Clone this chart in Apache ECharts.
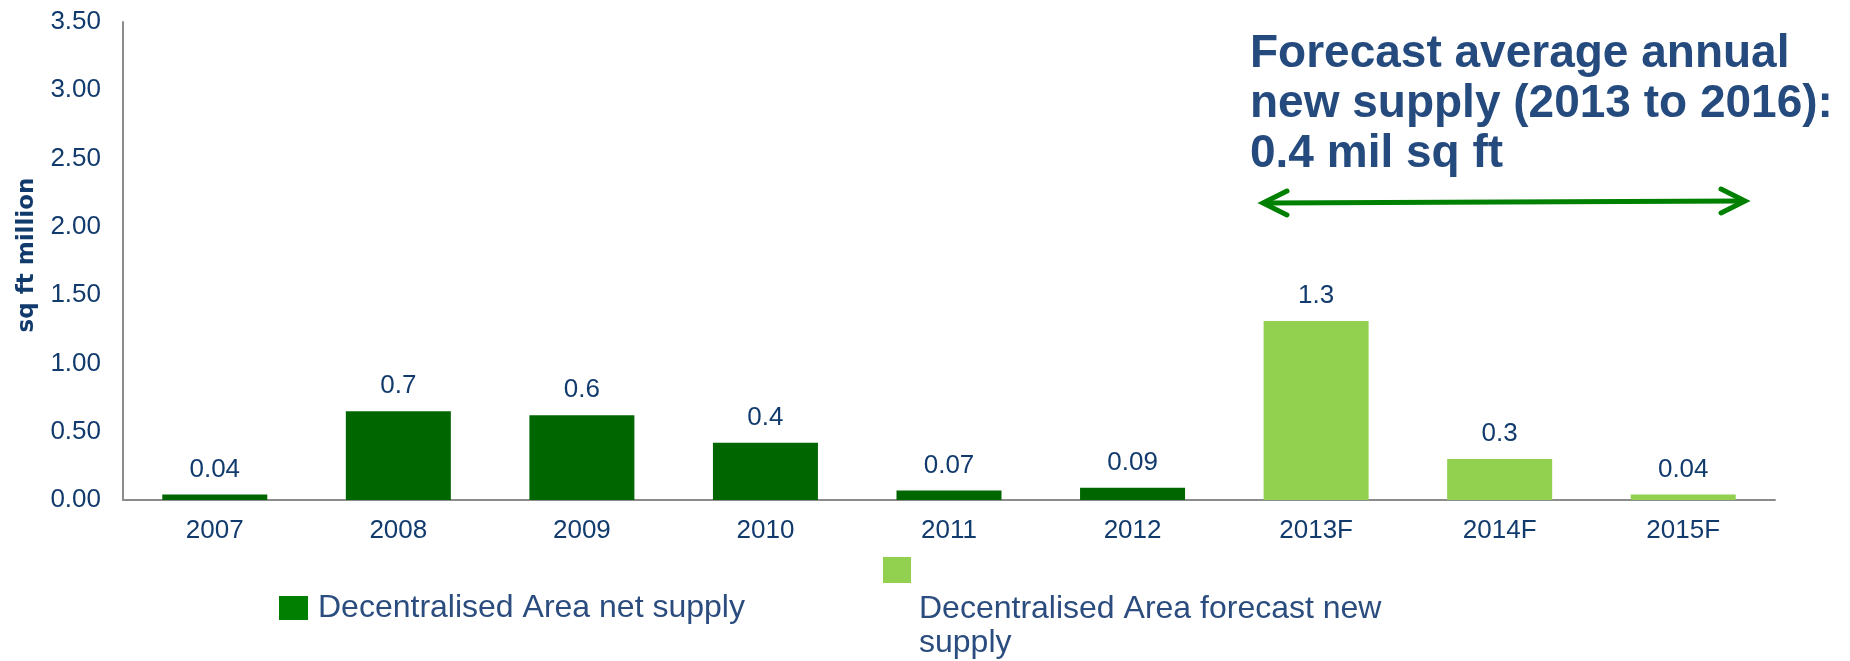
<!DOCTYPE html>
<html>
<head>
<meta charset="utf-8">
<script src="https://cdn.jsdelivr.net/npm/echarts@6/dist/echarts.min.js"></script>
<style>
html,body{margin:0;padding:0;background:#fff;}
#chart{width:1850px;height:661px;}
</style>
</head>
<body>
<div id="chart"></div>
<script>
const categories = ['2007','2008','2009','2010','2011','2012','2013F','2014F','2015F'];
const netSupply = [0.04, 0.65, 0.62, 0.42, 0.07, 0.09, null, null, null];
const forecastSupply = [null, null, null, null, null, null, 1.31, 0.30, 0.04];
const valueLabels = ['0.04','0.7','0.6','0.4','0.07','0.09','1.3','0.3','0.04'];
const seriesNames = ['Decentralised Area net supply', 'Decentralised Area forecast new supply'];
const forecastLegendLines = ['Decentralised Area forecast new', 'supply'];
const annotationText = 'Forecast average annual\nnew supply (2013 to 2016):\n0.4 mil sq ft';
const yAxisName = 'sq ft million';

const navy = '#123B6D';
const legendNavy = '#2B4C7E';
const labelCfg = {
  show: true,
  position: 'top',
  distance: 12,
  color: navy,
  fontFamily: 'Liberation Sans, Arial, sans-serif',
  fontSize: 26,
  formatter: p => valueLabels[p.dataIndex]
};

const chart = echarts.init(document.getElementById('chart'));
chart.setOption({
  animation: false,
  backgroundColor: '#ffffff',
  title: {
    text: annotationText,
    left: 1250,
    top: 29,
    padding: 0,
    textStyle: {
      fontFamily: 'Liberation Sans, Arial, sans-serif',
      fontWeight: 'bold',
      fontSize: 46,
      lineHeight: 50,
      color: '#254B7E'
    }
  },
  legend: [
    {
      left: 279,
      top: 592,
      padding: 0,
      itemWidth: 29,
      itemHeight: 24,
      itemGap: 0,
      icon: 'rect',
      data: [{ name: seriesNames[0], itemStyle: { color: '#007F00' } }],
      textStyle: {
        fontFamily: 'Liberation Sans, Arial, sans-serif',
        fontSize: 32,
        color: legendNavy,
        padding: [0, 0, 0, 5]
      }
    },
    {
      left: 883,
      top: 531,
      padding: 0,
      itemWidth: 28,
      itemHeight: 26,
      itemGap: 0,
      icon: 'rect',
      data: [{ name: seriesNames[1] }],
      formatter: () => '{s| }\n{t|' + forecastLegendLines[0] + '}\n{t|' + forecastLegendLines[1] + '}',
      textStyle: {
        fontFamily: 'Liberation Sans, Arial, sans-serif',
        fontSize: 32,
        color: legendNavy,
        rich: {
          s: { fontSize: 10, lineHeight: 113 },
          t: {
            fontFamily: 'Liberation Sans, Arial, sans-serif',
            fontSize: 32,
            lineHeight: 34,
            color: legendNavy,
            padding: [0, 0, 0, 3]
          }
        }
      }
    }
  ],
  grid: {
    left: 123,
    right: 75,
    top: 22,
    bottom: 161,
    containLabel: false
  },
  xAxis: {
    type: 'category',
    data: categories,
    axisLine: { show: true, lineStyle: { color: '#8C8C8C', width: 2 } },
    axisTick: { show: false },
    axisLabel: {
      margin: 18,
      color: navy,
      fontFamily: 'Liberation Sans, Arial, sans-serif',
      fontSize: 26
    }
  },
  yAxis: {
    type: 'value',
    min: 0,
    max: 3.5,
    interval: 0.5,
    name: yAxisName,
    nameLocation: 'middle',
    nameGap: 84,
    nameRotate: 90,
    nameTextStyle: {
      fontFamily: 'DejaVu Sans, sans-serif',
      fontWeight: 'bold',
      fontSize: 23,
      color: navy,
      padding: [0, 0, 0, 12]
    },
    splitLine: { show: false },
    axisTick: { show: false },
    axisLine: { show: true, lineStyle: { color: '#8C8C8C', width: 2 } },
    axisLabel: {
      margin: 22,
      color: navy,
      fontFamily: 'Liberation Sans, Arial, sans-serif',
      fontSize: 26,
      formatter: v => v.toFixed(2)
    }
  },
  series: [
    {
      name: seriesNames[0],
      type: 'bar',
      data: netSupply,
      barWidth: 105,
      barGap: '-100%',
      itemStyle: { color: '#006600' },
      label: labelCfg
    },
    {
      name: seriesNames[1],
      type: 'bar',
      data: forecastSupply,
      barWidth: 105,
      barGap: '-100%',
      itemStyle: { color: '#92D050' },
      label: labelCfg
    }
  ],
  graphic: [
    {
      type: 'group',
      silent: true,
      children: [
        { type: 'line', shape: { x1: 1266, y1: 203, x2: 1742, y2: 201 },
          style: { stroke: '#008000', lineWidth: 5 } },
        { type: 'polyline', shape: { points: [[1287, 191], [1263, 203], [1287, 215]] },
          style: { stroke: '#008000', lineWidth: 5, fill: null, lineCap: 'round', lineJoin: 'miter' } },
        { type: 'polyline', shape: { points: [[1721, 189], [1745, 201], [1721, 213]] },
          style: { stroke: '#008000', lineWidth: 5, fill: null, lineCap: 'round', lineJoin: 'miter' } }
      ]
    }
  ]
});
</script>
</body>
</html>
